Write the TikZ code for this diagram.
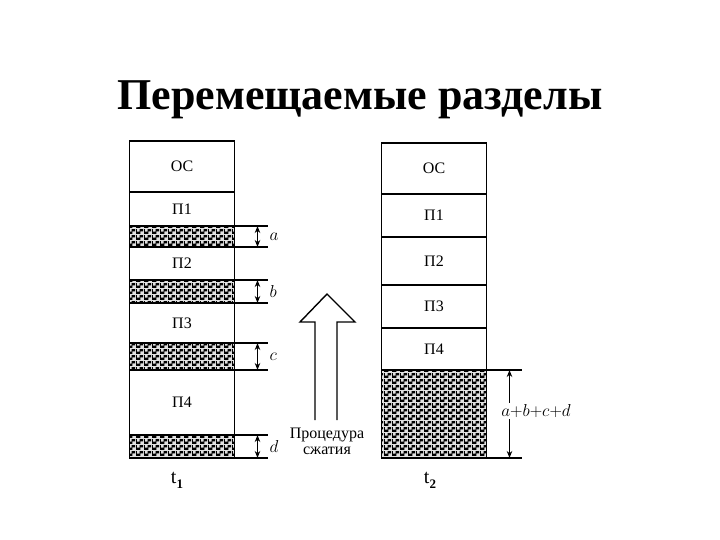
\documentclass[tikz,border=0pt]{standalone}
\usepackage{fontspec}
\setmainfont{Liberation Serif}
\usetikzlibrary{ % tikz packages
    positioning,
    arrows.meta,patterns
}
\pgfdeclarepatternformonly{holes}{\pgfpointorigin}{\pgfqpoint{8pt}{6pt}}{\pgfqpoint{8pt}{6pt}}{
    \pgfpathrectangle{\pgfqpoint{0pt}{0pt}}{\pgfqpoint{5pt}{2.6pt}}
    \pgfpathrectangle{\pgfqpoint{4pt}{3pt}}{\pgfqpoint{4pt}{2.6pt}}
    \pgfpathrectangle{\pgfqpoint{0pt}{3pt}}{\pgfqpoint{1pt}{2.6pt}}
    \pgfusepath{fill}
}
\tikzset{part/.style={
    draw, line width=1.4pt,
    minimum width=105pt, inner sep=0pt, outer sep=0pt,
    font=\fontsize{16}{16}\selectfont
}}
\tikzset{hole/.style={
    part, fill=black!12,
    postaction={pattern=holes, pattern color=black}
}}
\tikzset{dimline/.style={line width=1.2pt}}
\tikzset{dimarrow/.style={
    {Stealth[length=7pt,width=5.5pt]}-{Stealth[length=7pt,width=5.5pt]},
    line width=1.1pt
}}
\tikzset{dimlabel/.style={font=\fontsize{19}{19}\selectfont, inner sep=1pt}}
\newcommand{\tsub}[1]{t\raisebox{-5pt}{\fontsize{13}{13}\selectfont\bfseries #1}}

\begin{document}
\begin{tikzpicture}[x=1pt,y=-1pt,node distance=0pt]
        \useasboundingbox (0,0) rectangle (720,540);

        \node[font=\fontsize{44}{44}\selectfont\bfseries, anchor=base] (title) at (360,110) {Перемещаемые разделы};

        % memory at t1
        \node[part, minimum height=51pt, anchor=north] (os1) at (182,141) {ОС};
        \node[part, minimum height=34pt] (p11) [below=of os1] {П1};
        \node[hole, minimum height=21pt] (ha) [below=of p11] {};
        \node[part, minimum height=33pt] (p21) [below=of ha] {П2};
        \node[hole, minimum height=23pt] (hb) [below=of p21] {};
        \node[part, minimum height=40pt] (p31) [below=of hb] {П3};
        \node[hole, minimum height=27pt] (hc) [below=of p31] {};
        \node[part, minimum height=65pt] (p41) [below=of hc] {П4};
        \node[hole, minimum height=23pt] (hd) [below=of p41] {};
        \node[font=\fontsize{20}{20}\selectfont] (t1) at (177,480) {\tsub{1}};
        \draw[line width=2.4pt] (os1.south west) -- (os1.south east);

        % memory at t2
        \node[part, minimum height=51pt, anchor=north] (os2) at (434,143) {ОС};
        \node[part, minimum height=43pt] (p12) [below=of os2] {П1};
        \node[part, minimum height=48pt] (p22) [below=of p12] {П2};
        \node[part, minimum height=43pt] (p32) [below=of p22] {П3};
        \node[part, minimum height=42pt] (p42) [below=of p32] {П4};
        \node[hole, minimum height=88pt] (hall) [below=of p42] {};
        \node[font=\fontsize{20}{20}\selectfont] (t2) at (430,480) {\tsub{2}};
        \draw[line width=2.4pt] (p12.south west) -- (p12.south east);

        % hole sizes
        \foreach \h/\l in {ha/a,hb/b,hc/c,hd/d}{
            \coordinate (\h-top) at ([xshift=33pt]\h.north east);
            \coordinate (\h-bot) at ([xshift=33pt]\h.south east);
            \coordinate (\h-t) at ([xshift=23pt]\h.north east);
            \coordinate (\h-b) at ([xshift=23pt]\h.south east);
            \draw[dimline] (\h.north east) -- (\h-top);
            \draw[dimline] (\h.south east) -- (\h-bot);
            \draw[dimarrow] (\h-t) -- (\h-b);
            \node[dimlabel, anchor=west] (\h-lab) at ([xshift=34pt]\h.east) {$\l$};
        }

        \coordinate (hall-top) at ([xshift=35pt]hall.north east);
        \coordinate (hall-bot) at ([xshift=35pt]hall.south east);
        \coordinate (hall-t) at ([xshift=23pt]hall.north east);
        \coordinate (hall-b) at ([xshift=23pt]hall.south east);
        \draw[dimline] (hall.north east) -- (hall-top);
        \draw[dimline] (hall.south east) -- (hall-bot);
        \draw[dimarrow, line width=1.8pt] (hall-t) -- (hall-b);
        \node[dimlabel, fill=white] (sum) at (536,411) {$a{+}b{+}c{+}d$};

        % compaction arrow
        \draw[line width=1.4pt, line join=miter]
            (315,420) -- (315,322) -- (300,322) -- (327,294)
            -- (355,322) -- (337,322) -- (337,420);
        \node[font=\fontsize{16}{16}\selectfont, align=center, inner sep=0pt] (proc) at (327,441)
            {Процедура\\[0pt]сжатия};
    \end{tikzpicture}
\end{document}
